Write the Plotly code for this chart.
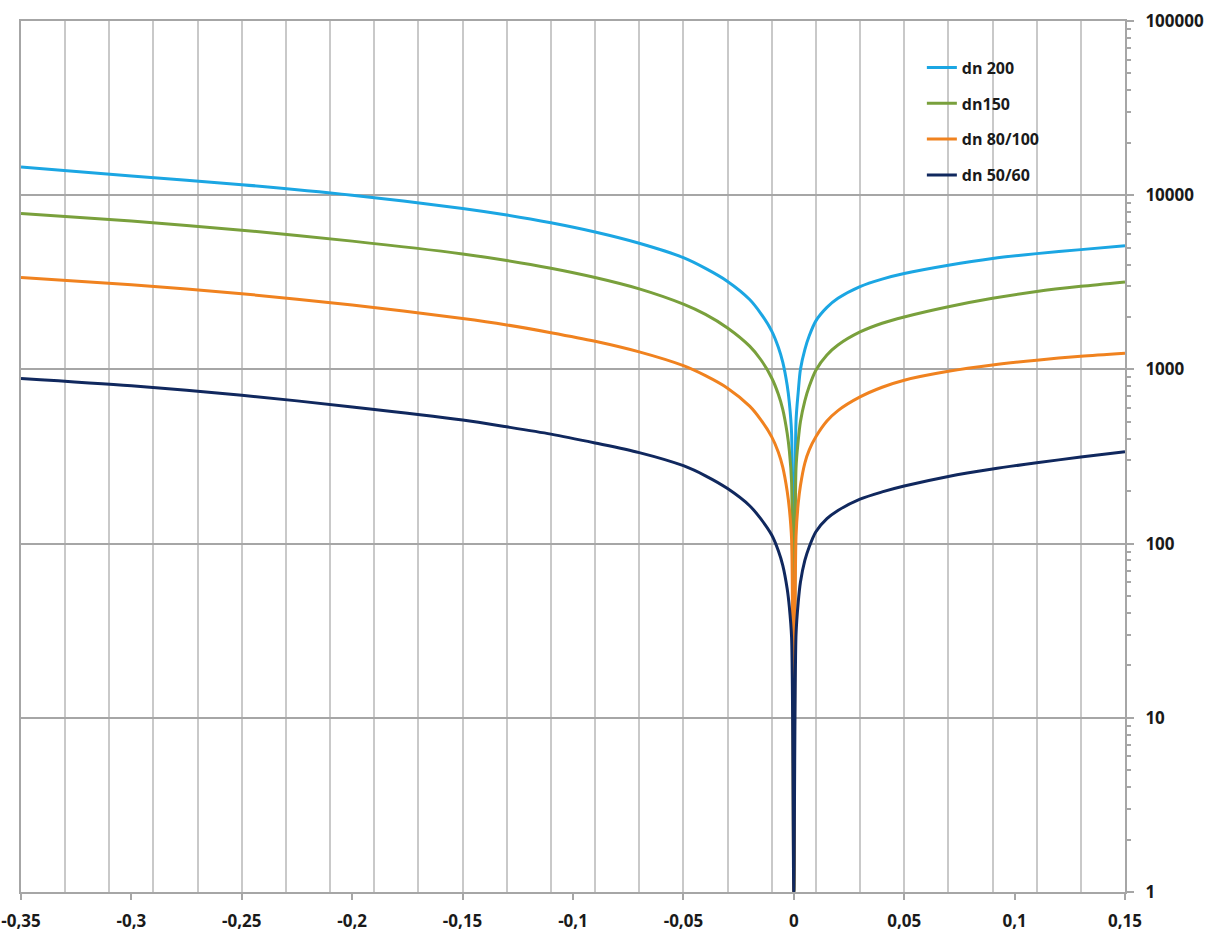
import plotly.graph_objects as go

# x values (differential, -0.35 .. 0.15)
x_vals = [-0.35, -0.3, -0.25, -0.2, -0.15, -0.13, -0.11, -0.09, -0.07, -0.05, -0.04,
          -0.03, -0.02, -0.015, -0.01, -0.007, -0.005, -0.003, -0.002, -0.001, 0.0,
          0.001, 0.002, 0.003, 0.005, 0.007, 0.01, 0.015, 0.02, 0.03, 0.04, 0.05,
          0.07, 0.09, 0.11, 0.13, 0.15]

dn200 = [14500, 12900, 11500, 10000, 8400, 7700, 6950, 6150, 5300, 4380, 3800,
         3200, 2520, 2100, 1660, 1340, 1100, 810, 640, 430, 1,
         500, 740, 1000, 1300, 1560, 1900, 2270, 2560, 2990, 3300, 3550,
         3960, 4330, 4620, 4870, 5120]

dn150 = [7850, 7100, 6300, 5450, 4600, 4220, 3810, 3370, 2900, 2370, 2070,
         1730, 1360, 1140, 893, 720, 590, 430, 340, 225, 1,
         270, 390, 500, 660, 800, 990, 1210, 1380, 1640, 1840, 2000,
         2290, 2560, 2800, 3000, 3180]

dn80_100 = [3370, 3060, 2720, 2340, 1960, 1800, 1625, 1450, 1260, 1050, 920,
            780, 615, 515, 410, 335, 275, 200, 158, 106, 1,
            110, 170, 215, 290, 345, 410, 505, 580, 695, 790, 867,
            975, 1060, 1130, 1190, 1240]

dn50_60 = [887, 805, 711, 609, 512, 468, 425, 378, 333, 280, 245,
           207, 165, 139, 112, 91, 75, 55, 43, 29, 1,
           30, 46, 60, 80, 96, 117, 139, 155, 180, 198, 214,
           243, 268, 291, 314, 337]

series_names = ["dn 200", "dn150", "dn 80/100", "dn 50/60"]
series_colors = ["#1ba6e3", "#79a03c", "#f0821f", "#10285e"]

x_tickvals = [-0.35, -0.3, -0.25, -0.2, -0.15, -0.1, -0.05, 0, 0.05, 0.1, 0.15]
x_ticktext = ["-0,35", "-0,3", "-0,25", "-0,2", "-0,15", "-0,1", "-0,05", "0", "0,05", "0,1", "0,15"]
y_tickvals = [1, 10, 100, 1000, 10000, 100000]
y_ticktext = ["1", "10", "100", "1000", "10000", "100000"]

fig = go.Figure()
for name, ys, col in zip(series_names, [dn200, dn150, dn80_100, dn50_60], series_colors):
    fig.add_trace(go.Scatter(x=x_vals, y=ys, mode="lines", name=name, legendgroup=name,
                             line=dict(color=col, width=3, shape="spline", smoothing=0.8)))

tick_font = dict(family="Open Sans", size=17, color="#1a1a1a", weight="bold")

fig.update_layout(
    width=1224, height=942,
    margin=dict(l=21, r=99, t=21, b=50),
    paper_bgcolor="white", plot_bgcolor="white",
    separators=", ",
    showlegend=True,
    legend=dict(x=0.816, y=0.966, xanchor="left", yanchor="top",
                bgcolor="rgba(0,0,0,0)", traceorder="grouped", tracegroupgap=12,
                font=dict(family="Open Sans", size=16, color="#1a1a1a", weight="bold")),
    xaxis=dict(range=[-0.35, 0.15], tickvals=x_tickvals, ticktext=x_ticktext, automargin=False,
               showgrid=False, zeroline=False, showline=True, linecolor="#a6a6a6", linewidth=2,
               mirror=True, ticks="outside", ticklen=6, tickwidth=2, tickcolor="#a6a6a6",
               ticklabelstandoff=7, tickfont=tick_font,
               minor=dict(tick0=-0.35, dtick=0.02, showgrid=True, gridcolor="#c9c9c9",
                          gridwidth=2, ticks="")),
    yaxis=dict(type="log", range=[0, 5], side="right", tickvals=y_tickvals, ticktext=y_ticktext,
               automargin=False,
               showgrid=True, gridcolor="#a6a6a6", gridwidth=2, zeroline=False,
               showline=True, linecolor="#a6a6a6", linewidth=2, mirror=True,
               ticks="outside", ticklen=7, tickwidth=2, tickcolor="#a6a6a6",
               ticklabelstandoff=8, tickfont=tick_font,
               minor=dict(dtick="D1", ticks="outside", ticklen=4, tickwidth=1.5,
                          tickcolor="#a6a6a6", showgrid=False)),
)

fig.write_html("out.html")
